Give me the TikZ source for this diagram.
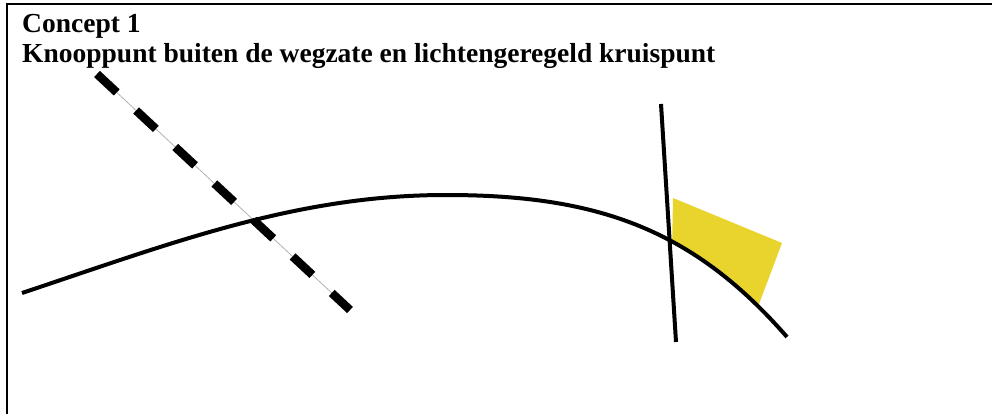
\documentclass[tikz,border=0pt]{standalone}
\usepackage{fontspec}
\setmainfont{Liberation Serif}

\definecolor{zone}{RGB}{232,212,44}

\begin{document}
\begin{tikzpicture}[
  x=1pt, y=-1pt,
  font=\fontsize{27.5}{33}\selectfont\bfseries,
  road/.style={line width=4pt},
  railbase/.style={draw=gray!60,line width=0.8pt},
  rail/.style={line width=8.5pt,dash pattern=on 27pt off 26.5pt},
  frame/.style={line width=2.5pt},
  title/.style={anchor=base west,inner sep=0pt}
]
\useasboundingbox (0,0) rectangle (992,414);

% kader
\draw[frame] (7,414) -- (7,4) -- (992,4);

% koppen
\node[title] (kop1) at (22,33) {Concept 1};
\node[title] (kop2) at (22,63) {Knooppunt buiten de wegzate en lichtengeregeld kruispunt};

% punten van de wegen
\coordinate (boogA) at (22,293);
\coordinate (boogTop) at (446,195);
\coordinate (boogB) at (787,337);
\coordinate (dwarsA) at (661,104);
\coordinate (dwarsB) at (676,342);

% opstelvlak, boven de boog
\begin{scope}
  \clip (boogTop) .. controls (596,195) and (692,228) .. (boogB) -- (992,337) -- (992,0) -- (446,0) -- cycle;
  \fill[zone] (673,198) -- (782,243) -- (756,312) -- (672,250) -- cycle;
\end{scope}

% spoorlijn
\coordinate (spoorA) at (97,74);
\coordinate (spoorB) at (350,310);
\draw[railbase] (spoorA) -- (spoorB);
\draw[rail] (spoorA) -- (spoorB);

% wegen
\draw[road] (boogA) .. controls (172,243) and (296,195) .. (boogTop)
  .. controls (596,195) and (692,228) .. (boogB);
\draw[road] (dwarsA) -- (dwarsB);
\end{tikzpicture}
\end{document}
